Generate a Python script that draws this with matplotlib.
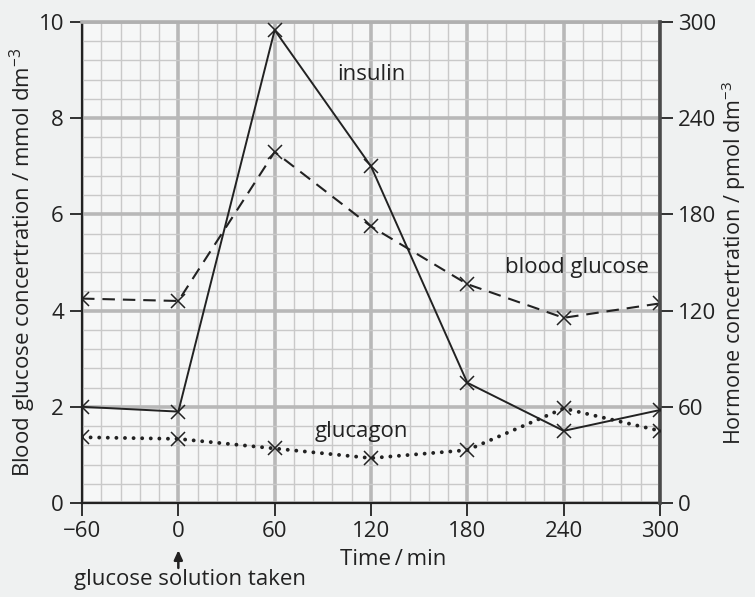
import matplotlib
matplotlib.use("Agg")
import matplotlib.pyplot as plt
import numpy as np

# ---- data ----
time_min = [-60, 0, 60, 120, 180, 240, 300]
blood_glucose = [4.25, 4.2, 7.3, 5.75, 4.55, 3.85, 4.15]      # mmol dm-3 (left axis)
insulin = [60, 57, 295, 210, 75, 45, 58]                      # pmol dm-3 (right axis)
glucagon = [41, 40, 34, 28, 33, 59, 45]                       # pmol dm-3 (right axis)
x_ticks = [-60, 0, 60, 120, 180, 240, 300]
left_ticks = [0, 2, 4, 6, 8, 10]
right_ticks = [0, 60, 120, 180, 240, 300]

plt.rcParams['font.family'] = ['Open Sans', 'DejaVu Sans']
plt.rcParams['mathtext.fontset'] = 'custom'
plt.rcParams['mathtext.rm'] = 'Open Sans'
plt.rcParams['mathtext.default'] = 'regular'

FS = 16
fig = plt.figure(figsize=(7.55, 5.97), dpi=100, facecolor='#eff1f1')
ax = fig.add_axes([82/755, 1-503/597, (660-82)/755, (503-22)/597])
ax.set_facecolor('#f6f7f7')

ax.set_xlim(-60, 300)
ax.set_ylim(0, 10)
ax.set_xticks(x_ticks)
ax.set_xticks(np.arange(-60, 301, 12), minor=True)
ax.set_yticks(left_ticks)
ax.set_yticks(np.arange(0, 10.01, 0.4), minor=True)
ax.set_xticklabels([str(v).replace('-', '\u2212') for v in x_ticks], fontsize=FS, color='#222')
ax.set_yticklabels([str(v) for v in left_ticks], fontsize=FS, color='#222')
ax.grid(which='minor', color='#c9c9c9', lw=1.0, zorder=0)
ax.grid(which='major', color='#b8b8b8', lw=2.6, zorder=0)
ax.set_axisbelow(True)
ax.tick_params(which='major', direction='out', length=9, width=1.3, color='#222', pad=4)
ax.tick_params(which='minor', length=0)
ax.tick_params(axis='y', which='both', right=False)
for s in ['left', 'bottom']:
    ax.spines[s].set_color('#222')
    ax.spines[s].set_linewidth(1.6)
ax.spines['top'].set_color('#b0b0b0')
ax.spines['top'].set_linewidth(2.6)
ax.spines['right'].set_visible(False)

ax.plot(time_min, blood_glucose, color='#222', lw=1.5, linestyle=(0, (6, 3.8)),
        marker='x', markersize=10, markeredgewidth=1.1, zorder=3)

ax2 = ax.twinx()
ax2.set_ylim(0, 300)
ax2.set_yticks(right_ticks)
ax2.set_yticklabels([str(v) for v in right_ticks], fontsize=FS, color='#222')
ax2.tick_params(axis='y', direction='out', length=9, width=1.3, color='#222', pad=4)
for s in ['left', 'top', 'bottom']:
    ax2.spines[s].set_visible(False)
ax2.spines['right'].set_color('#4a4a4a')
ax2.spines['right'].set_linewidth(2.6)

ax2.plot(time_min, insulin, color='#222', lw=1.4, linestyle='-',
         marker='x', markersize=10, markeredgewidth=1.1, zorder=3)
ax2.plot(time_min, glucagon, color='#222', lw=2.8, linestyle=(0, (0.01, 2.2)),
         dash_capstyle='round', marker='x', markersize=10, markeredgewidth=1.1,
         zorder=3)

# series labels
ax.text(120, 8.9, 'insulin', fontsize=FS, color='#222', ha='center', va='center')
ax.text(248, 4.89, 'blood glucose', fontsize=FS, color='#222', ha='center', va='center')
ax.text(114, 1.48, 'glucagon', fontsize=FS, color='#222', ha='center', va='center')

# axis labels
ax.set_ylabel('Blood glucose concertration / mmol dm$^{-3}$', fontsize=FS,
              color='#222', labelpad=0)
ax2.set_ylabel('Hormone concertration / pmol dm$^{-3}$', fontsize=15.5,
               color='#222', labelpad=2)
tr = ax.get_xaxis_transform()
ax.text(134, -0.118, 'Time\u2009/\u2009min', fontsize=FS, color='#222',
        ha='center', va='center', transform=tr)
ax.annotate('', xy=(0, -0.098), xycoords=tr, xytext=(0, -0.135), textcoords=tr,
            arrowprops=dict(arrowstyle='-|>,head_length=0.55,head_width=0.25',
                            color='#222', lw=1.8, shrinkA=0, shrinkB=0),
            annotation_clip=False)
ax.text(7, -0.16, 'glucose solution taken', fontsize=FS, color='#222',
        ha='center', va='center', transform=tr)

fig.savefig('out.png', dpi=100, facecolor=fig.get_facecolor())
